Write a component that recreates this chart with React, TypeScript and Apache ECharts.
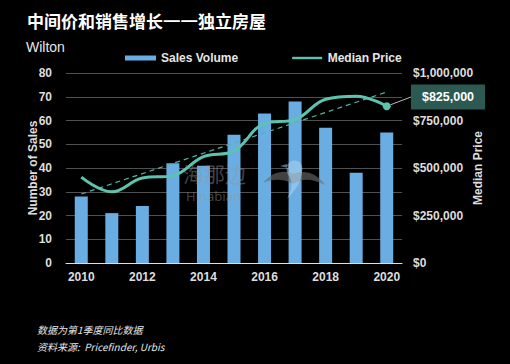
import React, { useEffect, useRef } from "react";
import * as echarts from "echarts";

const years = ["2010", "2011", "2012", "2013", "2014", "2015", "2016", "2017", "2018", "2019", "2020"];
const salesVolume = [28, 21, 24, 42, 41, 54, 63, 68, 57, 38, 55];
const medianPrice = [452000, 375000, 447000, 460000, 560000, 590000, 735000, 755000, 862000, 878000, 825000];
const trendStart = 363000;
const trendEnd = 900000;
const leftTicks = { min: 0, max: 80, interval: 10 };
const rightTicks = { min: 0, max: 1000000, interval: 250000 };

const fmtMoney = (v: number) => "$" + v.toLocaleString("en-US");

const wingD = "M0,25 C8,14 22,11 30,16 C40,11 55,15 62,27 C52,22 42,20 34,24 L30,26 C22,21 10,20 0,25 Z";
const bodyD = "M29,3 C36,1 41,7 39,14 C38,23 34,31 24,41 C29,31 30,24 26,18 C22,13 23,5 29,3 Z M24,6 L17,8 L25,10 Z";
echarts.graphic.registerShape("birdWing", echarts.graphic.extendPath(wingD, {}) as any);
echarts.graphic.registerShape("birdBody", echarts.graphic.extendPath(bodyD, {}) as any);

export default function App() {
  const ref = useRef<HTMLDivElement>(null);
  useEffect(() => {
    document.body.style.margin = "0";
    const chart = echarts.init(ref.current!, null, { renderer: "svg" });
    const last = medianPrice.length - 1;
    const priceData = medianPrice.map((v, i) =>
      i === last
        ? {
            value: v,
            symbol: "circle",
            symbolSize: 8,
            label: {
              show: true,
              position: "right",
              formatter: () => fmtMoney(v),
              backgroundColor: "#2c5951",
              color: "#ffffff",
              fontWeight: "bold",
              fontSize: 12.5,
              fontFamily: "Liberation Sans, Arial, sans-serif",
              padding: [6, 11],
            },
          }
        : { value: v, symbol: "none" }
    );
    const axisLabelStyle = {
      color: "#dddddd",
      fontWeight: "bold" as const,
      fontSize: 12,
      fontFamily: "Liberation Sans, Arial, sans-serif",
    };
    chart.setOption({
      animation: false,
      backgroundColor: "#000000",
      textStyle: { fontFamily: "Liberation Sans, Arial, sans-serif" },
      title: [
        {
          text: "中间价和销售增长{d|—}{d|—}独立房屋",
          left: 22,
          top: 7,
          textStyle: {
            color: "#ffffff",
            fontSize: 17,
            fontWeight: "bold",
            fontFamily: "Noto Sans CJK SC",
            rich: {
              d: {
                color: "#ffffff",
                fontFamily: "Liberation Sans",
                fontSize: 16,
                fontWeight: "bold",
                width: 17.5,
                align: "center",
              },
            },
          },
        },
        {
          text: "Wilton",
          left: 21,
          top: 35,
          textStyle: { color: "#e6e6e6", fontSize: 14, fontWeight: "normal", fontFamily: "Liberation Sans, Arial" },
        },
      ],
      legend: {
        top: 47,
        left: 120,
        itemGap: 54,
        itemWidth: 31,
        itemHeight: 5,
        textStyle: { color: "#e6e6e6", fontWeight: "bold", fontSize: 12, fontFamily: "Liberation Sans, Arial" },
        data: [
          { name: "Sales Volume", icon: "rect" },
          { name: "Median Price", icon: "path://M0,0 M0,5 M0,1.3 L30,1.3 L30,3.7 L0,3.7 Z" },
        ],
      },
      grid: { left: 66, right: 108, top: 73, bottom: 101 },
      xAxis: {
        type: "category",
        data: years,
        boundaryGap: true,
        axisLine: { lineStyle: { color: "#e0e0e0", width: 1 } },
        axisTick: { show: false },
        axisLabel: { ...axisLabelStyle, interval: 1, margin: 8 },
      },
      yAxis: [
        {
          type: "value",
          ...leftTicks,
          name: "Number of Sales",
          nameLocation: "middle",
          nameGap: 27,
          nameMoveOverlap: false,
          nameTextStyle: { color: "#dddddd", fontWeight: "bold", fontSize: 12 },
          axisLine: { show: false },
          axisTick: { show: false },
          axisLabel: { ...axisLabelStyle, margin: 14 },
          splitLine: { lineStyle: { color: "#505050", width: 1 } },
        },
        {
          type: "value",
          ...rightTicks,
          name: "Median Price",
          nameLocation: "middle",
          nameGap: 70,
          nameMoveOverlap: false,
          nameTextStyle: { color: "#dddddd", fontWeight: "bold", fontSize: 12 },
          axisLine: { show: false },
          axisTick: { show: false },
          axisLabel: { ...axisLabelStyle, margin: 11, formatter: (v: number) => fmtMoney(v) },
          splitLine: { show: false },
        },
      ],
      series: [
        {
          name: "Sales Volume",
          type: "bar",
          data: salesVolume,
          barWidth: 13,
          itemStyle: { color: "#69ade2" },
          yAxisIndex: 0,
          z: 2,
        },
        {
          name: "Trend",
          type: "line",
          yAxisIndex: 1,
          data: [[years[0], trendStart], [years[years.length - 1], trendEnd]],
          symbol: "none",
          lineStyle: { color: "#4fb8a4", width: 1.2, type: [5, 4] },
          z: 3,
        },
        {
          name: "Median Price",
          type: "line",
          yAxisIndex: 1,
          data: priceData,
          smooth: 0.4,
          showSymbol: true,
          symbol: "none",
          itemStyle: { color: "#5cc4ae" },
          lineStyle: { color: "#5cc4ae", width: 3 },
          labelLayout: (params: any) =>
            params.dataIndex === last
              ? { x: 448, y: 97, align: "center", verticalAlign: "middle" }
              : {},
          labelLine: { show: true, lineStyle: { color: "#bbbbbb", width: 1 } },
          z: 4,
        },
      ],
      graphic: [
        {
          type: "text",
          left: 183,
          top: 162,
          style: { text: "海那边", fill: "rgba(150,150,150,0.45)", fontSize: 21, fontFamily: "Noto Sans CJK SC" },
          z: 10,
        },
        {
          type: "text",
          left: 186,
          top: 189,
          style: { text: "Hinabian", fill: "rgba(150,150,150,0.45)", fontSize: 13, fontFamily: "Noto Sans, Arial" },
          z: 10,
        },
        {
          type: "birdWing",
          x: 263,
          y: 158,
          style: { fill: "rgba(110,110,110,0.6)" },
          z: 10,
        },
        {
          type: "birdBody",
          x: 263,
          y: 158,
          style: { fill: "rgba(180,215,240,0.5)" },
          z: 11,
        },
        {
          type: "text",
          left: 37,
          top: 324,
          style: { text: "数据为第1季度同比数据", fill: "#e6e6e6", fontSize: 10, fontStyle: "italic", fontFamily: "Noto Sans CJK SC" },
        },
        {
          type: "text",
          left: 37,
          top: 341,
          style: { text: "资料来源:  Pricefinder, Urbis", fill: "#e6e6e6", fontSize: 10, fontStyle: "italic", fontFamily: "Noto Sans CJK SC" },
        },
      ],
    });
    return () => chart.dispose();
  }, []);
  return <div ref={ref} style={{ width: 510, height: 364, position: "absolute", left: 0, top: 0 }} />;
}
